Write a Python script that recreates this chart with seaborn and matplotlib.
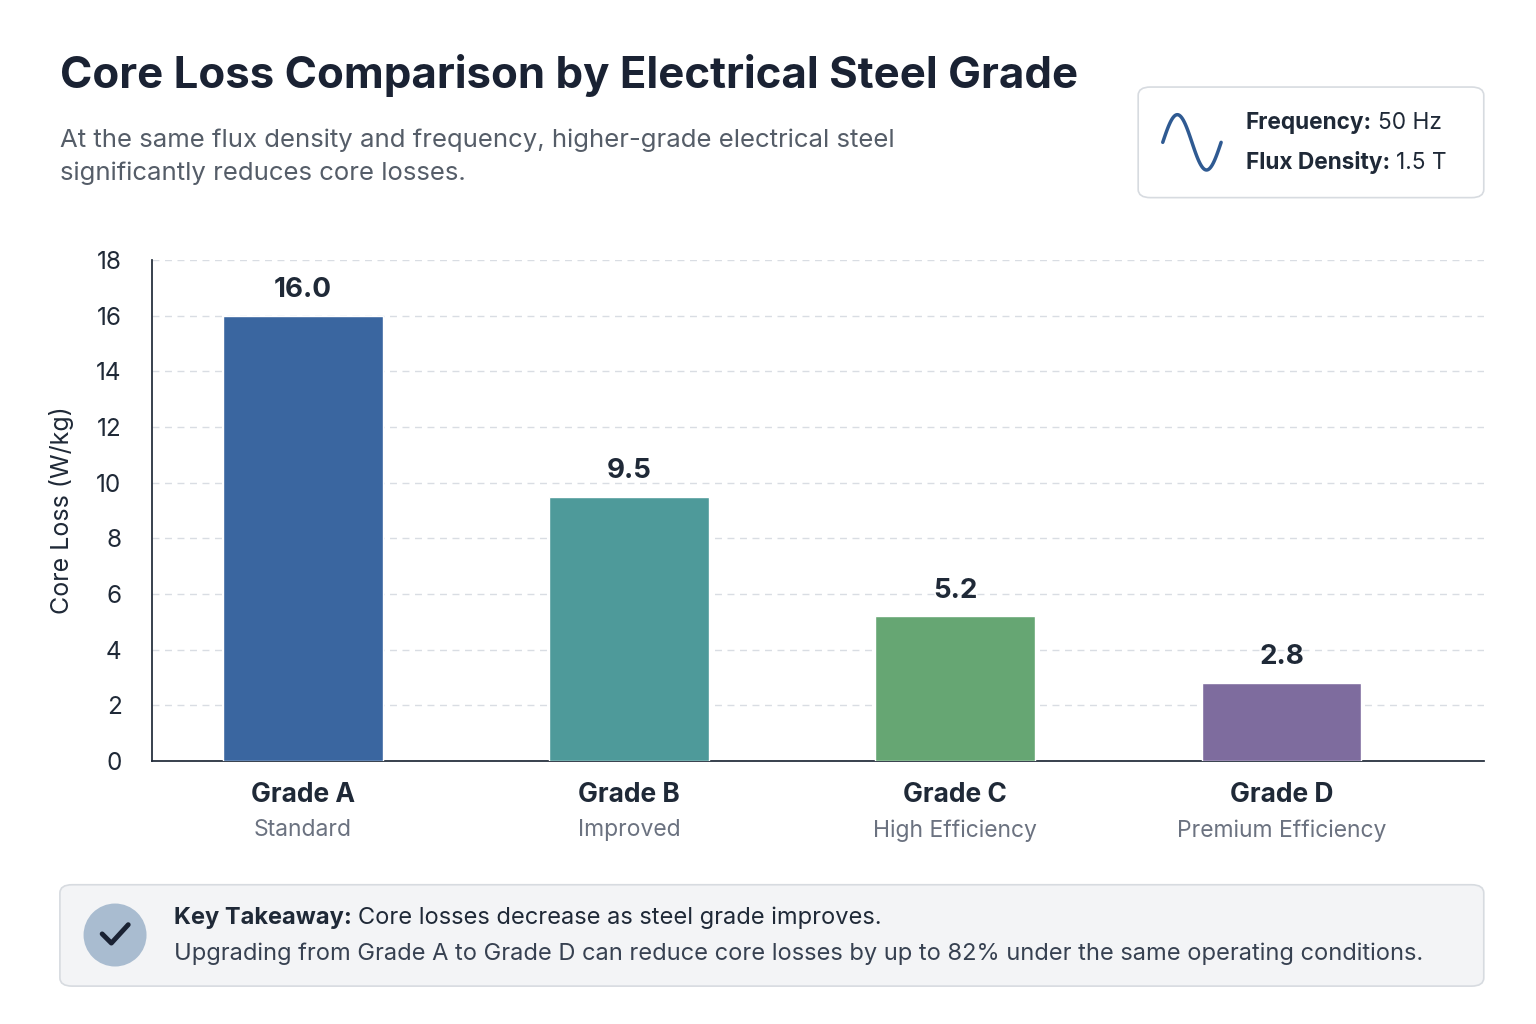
import matplotlib.pyplot as plt
import numpy as np
import pandas as pd
import seaborn as sns
from matplotlib.patches import FancyBboxPatch, Ellipse

grades = ["Grade A", "Grade B", "Grade C", "Grade D"]
subtitles = ["Standard", "Improved", "High Efficiency", "Premium Efficiency"]
core_loss = [16.0, 9.5, 5.2, 2.8]
colors = ["#3A66A0", "#4E9A9A", "#66A673", "#7E6C9E"]
yticks = list(range(0, 19, 2))

sns.set_theme(style="white")
plt.rcParams["font.family"] = ["Inter", "DejaVu Sans"]

df = pd.DataFrame({"grade": grades, "loss": core_loss})

fig = plt.figure(figsize=(15.36, 10.24), dpi=100)
ax = fig.add_axes([0.099, 0.257, 0.867, 0.489])
sns.barplot(data=df, x="grade", y="loss", hue="grade", palette=colors,
            legend=False, width=0.49, saturation=1, ax=ax, zorder=3)
ax.set_xlim(-0.463, 3.62)
ax.set_ylim(0, 18)
ax.set_yticks(yticks)
ax.tick_params(axis="y", labelsize=17.5, colors="#1f2937", length=0, pad=22)
ax.grid(axis="y", color="#d9dde3", linestyle=(0, (5, 4)), linewidth=1, zorder=0)
for s in ["top", "right"]:
    ax.spines[s].set_visible(False)
ax.spines["left"].set_color("#1f2937")
ax.spines["bottom"].set_color("#1f2937")
ax.set_xlabel("")
ax.set_ylabel("Core Loss (W/kg)", fontsize=18, color="#1f2937", labelpad=16)
ax.set_xticks(range(4))
ax.set_xticklabels([])
for i, (g, sub, v) in enumerate(zip(grades, subtitles, core_loss)):
    ax.text(i, v + 0.45, f"{v:.1f}", ha="center", va="bottom", fontsize=20,
            fontweight="bold", color="#1f2937")
    ax.text(i, -0.75, g, ha="center", va="top", fontsize=19, fontweight="bold",
            color="#1f2937")
    ax.text(i, -2.1, sub, ha="center", va="top", fontsize=16.5, color="#6b7280")

fig.text(0.039, 0.926, "Core Loss Comparison by Electrical Steel Grade",
         fontsize=31.5, fontweight="bold", color="#1a2233", va="center")
fig.text(0.039, 0.847, "At the same flux density and frequency, higher-grade electrical steel\n"
         "significantly reduces core losses.", fontsize=18.5, color="#555d68",
         va="center", linespacing=1.55)

# info box
fig.patches.append(FancyBboxPatch((0.741, 0.807), 0.225, 0.108, boxstyle="round,pad=0,rounding_size=0.008",
                                  transform=fig.transFigure, facecolor="white",
                                  edgecolor="#d7dbe0", linewidth=1.2))
t = np.linspace(0, 2 * np.pi, 100)
fig.add_artist(plt.Line2D(0.757 + 0.038 * t / (2 * np.pi), 0.861 + 0.027 * np.sin(t),
                          transform=fig.transFigure, color="#2f5a92", linewidth=2.5))


def label_pair(x, y, bold, rest, size):
    t1 = fig.text(x, y, bold, fontsize=size, fontweight="bold", color="#1f2937", va="center")
    fig.canvas.draw()
    bb = t1.get_window_extent()
    x2 = bb.x1 / fig.bbox.width + 0.004
    fig.text(x2, y, rest, fontsize=size, color="#1f2937", va="center")


label_pair(0.811, 0.880, "Frequency:", "50 Hz", 16.3)
label_pair(0.811, 0.841, "Flux Density:", "1.5 T", 16.3)

# takeaway box
fig.patches.append(FancyBboxPatch((0.039, 0.037), 0.927, 0.099, boxstyle="round,pad=0,rounding_size=0.008",
                                  transform=fig.transFigure, facecolor="#f3f4f6",
                                  edgecolor="#d7dbe0", linewidth=1.2))
fig.patches.append(Ellipse((0.0749, 0.0869), 0.041, 0.0615, transform=fig.transFigure,
                           facecolor="#a9bcd0", edgecolor="none"))
fig.add_artist(plt.Line2D([0.0665, 0.0725, 0.0835], [0.0880, 0.0790, 0.0970],
                          transform=fig.transFigure, color="#1a2233", linewidth=3.5,
                          solid_capstyle="round", solid_joinstyle="round"))
label_pair(0.113, 0.104, "Key Takeaway:", "Core losses decrease as steel grade improves.", 17)
fig.text(0.113, 0.069, "Upgrading from Grade A to Grade D can reduce core losses by up to 82% "
         "under the same operating conditions.", fontsize=17, color="#374151", va="center")

fig.savefig("out.png", dpi=100)
